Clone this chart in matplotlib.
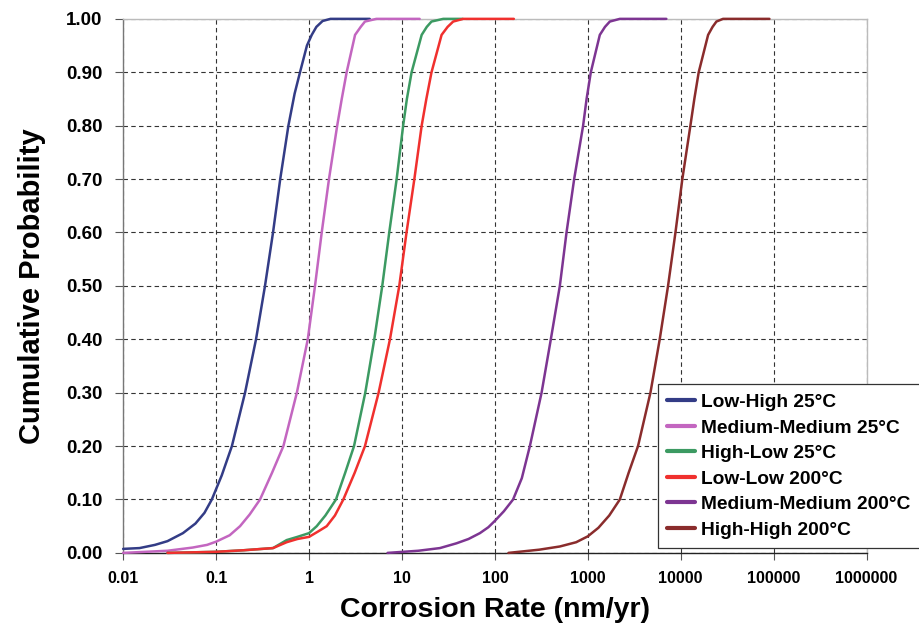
import matplotlib
matplotlib.use("Agg")
import matplotlib.pyplot as plt
from matplotlib.ticker import FixedLocator, FixedFormatter, NullLocator

plt.rcParams['font.family'] = ['Liberation Sans', 'DejaVu Sans']
plt.rcParams['font.weight'] = 'bold'

# values (corrosion rate in nm/yr, cumulative probability)
low_high_25_x = [0.01, 0.015, 0.022, 0.03, 0.044, 0.06, 0.075, 0.09, 0.115, 0.148, 0.205, 0.269, 0.336,
                 0.41, 0.49, 0.60, 0.70, 0.80, 0.95, 1.07, 1.2, 1.4, 1.7, 4.5]
low_high_25_y = [0.0075, 0.009, 0.015, 0.022, 0.037, 0.055, 0.075, 0.10, 0.145, 0.20, 0.30, 0.40, 0.50,
                 0.60, 0.70, 0.80, 0.86, 0.90, 0.95, 0.97, 0.985, 0.996, 1.0, 1.0]

med_med_25_x = [0.01, 0.03, 0.056, 0.08, 0.10, 0.14, 0.181, 0.23, 0.297, 0.40, 0.53, 0.74, 0.97, 1.16,
                1.37, 1.64, 2.01, 2.25, 2.54, 3.13, 3.6, 4.0, 5.3, 15.5]
med_med_25_y = [0.0, 0.004, 0.01, 0.015, 0.021, 0.033, 0.05, 0.072, 0.10, 0.15, 0.20, 0.30, 0.40, 0.50,
                0.60, 0.70, 0.80, 0.85, 0.90, 0.97, 0.985, 0.995, 1.0, 1.0]

high_low_25_x = [0.03, 0.1, 0.2, 0.41, 0.575, 0.75, 1.0, 1.21, 1.5, 1.95, 2.45, 3.05, 4.03, 5.04, 6.14,
                 7.30, 8.77, 10.3, 11.3, 12.7, 16.3, 18.5, 20.8, 27.8, 45.0]
high_low_25_y = [0.0, 0.002, 0.005, 0.009, 0.024, 0.03, 0.037, 0.05, 0.07, 0.10, 0.15, 0.20, 0.30, 0.40,
                 0.50, 0.60, 0.70, 0.80, 0.85, 0.90, 0.97, 0.985, 0.995, 1.0, 1.0]

low_low_200_x = [0.03, 0.1, 0.2, 0.41, 0.575, 0.75, 1.0, 1.25, 1.55, 1.9, 2.34, 3.1, 4.0, 5.61, 7.43,
                 9.36, 11.2, 13.6, 16.3, 18.3, 20.8, 26.7, 31.0, 35.6, 45.6, 160.0]
low_low_200_y = [0.0, 0.002, 0.005, 0.009, 0.02, 0.026, 0.03, 0.04, 0.05, 0.07, 0.10, 0.15, 0.20, 0.30,
                 0.40, 0.50, 0.60, 0.70, 0.80, 0.85, 0.90, 0.97, 0.985, 0.995, 1.0, 1.0]

med_med_200_x = [7.0, 15.0, 25.6, 38.7, 52.0, 69.0, 85.0, 100.0, 125.0, 157.0, 195.0, 238.0, 318.0,
                 400.0, 500.0, 590.0, 713.0, 890.0, 970.0, 1077.0, 1346.0, 1530.0, 1725.0, 2210.0, 7000.0]
med_med_200_y = [0.0, 0.004, 0.009, 0.018, 0.026, 0.037, 0.048, 0.06, 0.078, 0.10, 0.14, 0.20, 0.30,
                 0.40, 0.50, 0.60, 0.70, 0.80, 0.85, 0.90, 0.97, 0.985, 0.995, 1.0, 1.0]

high_high_200_x = [140.0, 300.0, 500.0, 750.0, 1000.0, 1300.0, 1700.0, 2210.0, 2750.0, 3470.0, 4720.0,
                   5940.0, 7300.0, 8770.0, 10400.0, 12700.0, 14000.0, 15600.0, 19700.0, 22000.0,
                   24200.0, 28500.0, 90000.0]
high_high_200_y = [0.0, 0.006, 0.012, 0.02, 0.031, 0.047, 0.07, 0.10, 0.15, 0.20, 0.30, 0.40, 0.50,
                   0.60, 0.70, 0.80, 0.85, 0.90, 0.97, 0.985, 0.995, 1.0, 1.0]

series = [
    ("Low-High 25°C", low_high_25_x, low_high_25_y, "#333c86"),
    ("Medium-Medium 25°C", med_med_25_x, med_med_25_y, "#c366c0"),
    ("High-Low 25°C", high_low_25_x, high_low_25_y, "#3c9a62"),
    ("Low-Low 200°C", low_low_200_x, low_low_200_y, "#f0302e"),
    ("Medium-Medium 200°C", med_med_200_x, med_med_200_y, "#7d3592"),
    ("High-High 200°C", high_high_200_x, high_high_200_y, "#8a2c2c"),
]

x_ticks = [0.01, 0.1, 1, 10, 100, 1000, 10000, 100000, 1000000]
x_tick_labels = ["0.01", "0.1", "1", "10", "100", "1000", "10000", "100000", "1000000"]
y_ticks = [i / 10 for i in range(11)]
y_tick_labels = ["%.2f" % v for v in y_ticks]

fig = plt.figure(figsize=(9.19, 6.29), dpi=100)
ax = fig.add_axes([0.134, 0.121, 0.809, 0.849])

for label, xs, ys, color in series:
    ax.plot(xs, ys, color=color, lw=1.8, label=label, solid_joinstyle='round',
            solid_capstyle='round', clip_on=False, zorder=3)

ax.set_xscale('log')
ax.set_xlim(0.01, 1000000)
ax.set_ylim(0, 1.0)
ax.xaxis.set_major_locator(FixedLocator(x_ticks))
ax.xaxis.set_major_formatter(FixedFormatter(x_tick_labels))
ax.xaxis.set_minor_locator(NullLocator())
ax.set_yticks(y_ticks)
ax.set_yticklabels(y_tick_labels)

ax.grid(True, which='major', linestyle=(0, (4, 3)), color='#333333', lw=0.8)
ax.set_axisbelow(True)
ax.tick_params(axis='x', labelsize=11.5, direction='out', length=5, width=0.8, color='#555555', pad=8)
ax.tick_params(axis='y', labelsize=13.5, direction='out', length=6, width=0.8, color='#555555', pad=9)
for lab in ax.get_xticklabels() + ax.get_yticklabels():
    lab.set_fontweight('bold')

ax.spines['left'].set_color('#777777')
ax.spines['bottom'].set_color('#222222')
ax.spines['top'].set_color('#bbbbbb')
ax.spines['right'].set_color('#bbbbbb')
for s in ax.spines.values():
    s.set_linewidth(1.0)

ax.set_xlabel("Corrosion Rate (nm/yr)", fontsize=20.5, fontweight='bold', labelpad=8)
ax.set_ylabel("Cumulative Probability", fontsize=21, fontweight='bold', labelpad=14)

leg = ax.legend(loc='lower left', bbox_to_anchor=(0.719, 0.009), fontsize=13.8,
                frameon=True, fancybox=False, edgecolor='#333333', framealpha=1,
                handlelength=1.45, handletextpad=0.3, labelspacing=0.42,
                borderpad=0.5, borderaxespad=0)
leg.get_frame().set_linewidth(0.9)
leg.set_zorder(5)
for t in leg.get_texts():
    t.set_fontweight('bold')
for h in leg.get_lines():
    h.set_linewidth(3)
leg.set_clip_on(False)

fig.savefig("out.png", dpi=100)
